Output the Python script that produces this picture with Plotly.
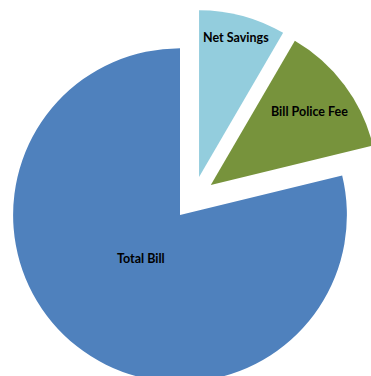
import plotly.graph_objects as go

labels = ["Net Savings", "Bill Police Fee", "Total Bill"]
values = [8.4, 12.8, 78.8]
colors = ["#93CDDD", "#77933C", "#4F81BD"]
pulls = [0.13, 0.13, 0.13]

fig = go.Figure(go.Pie(
    labels=labels,
    values=values,
    sort=False,
    direction="clockwise",
    rotation=0,
    pull=pulls,
    marker=dict(colors=colors, line=dict(width=0)),
    textinfo="none",
    domain=dict(x=[0.0126, 1], y=[0, 1]),
    showlegend=False,
    hoverinfo="label+percent",
))

# label placement (paper coordinates) for each slice's text
label_xy = {
    "Net Savings": (0.619, 0.905),
    "Bill Police Fee": (0.8115, 0.718),
    "Total Bill": (0.369, 0.348),
}
for lab in labels:
    x, y = label_xy[lab]
    fig.add_annotation(
        x=x, y=y, xref="paper", yref="paper",
        text=lab, showarrow=False,
        xanchor="center", yanchor="middle",
        font=dict(family="Lato", size=12.5, color="black", weight="bold"),
    )

fig.update_layout(
    width=382,
    height=396,
    margin=dict(l=0, r=0, t=0, b=0),
    paper_bgcolor="white",
    plot_bgcolor="white",
)

fig.write_html(
    "out.html",
    post_script="document.documentElement.style.overflow='hidden';document.body.style.overflow='hidden';document.body.style.margin='0';",
)
